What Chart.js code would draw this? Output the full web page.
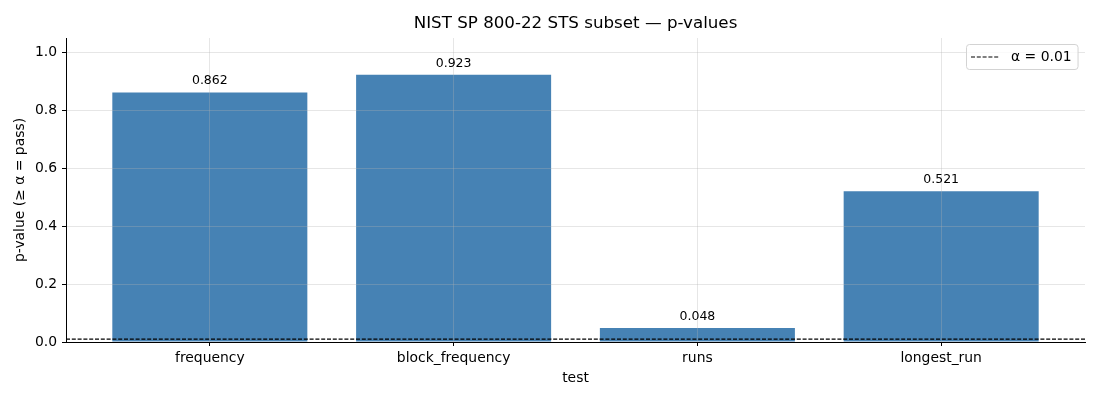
<!DOCTYPE html>
<html>
<head>
<meta charset="utf-8">
<script src="https://cdn.jsdelivr.net/npm/chart.js@4.4.0/dist/chart.umd.min.js"></script>
<style>
  html, body { margin: 0; padding: 0; background: #fff; }
</style>
</head>
<body>
<canvas id="stsChart" width="1100" height="400"></canvas>
<script>
const categories = ["frequency", "block_frequency", "runs", "longest_run"];
const pValues = [0.862, 0.923, 0.048, 0.521];
const alpha = 0.01;
const yTicks = [0.0, 0.2, 0.4, 0.6, 0.8, 1.0];
const xMin = -0.59, xMax = 3.59;
const yMax = 1.05;

const FONT = "'DejaVu Sans', sans-serif";
const gridColor = "rgba(176,176,176,0.32)";

// title centred over the plot area, like matplotlib
const titlePlugin = {
  id: "axTitle",
  afterDraw(chart) {
    const { ctx, chartArea } = chart;
    ctx.save();
    ctx.font = "16.7px " + FONT;
    ctx.fillStyle = "#000";
    ctx.textAlign = "center";
    ctx.textBaseline = "middle";
    ctx.fillText("NIST SP 800-22 STS subset — p-values", (chartArea.left + chartArea.right) / 2, 24);
    ctx.restore();
  }
};

// value labels above each bar
const valueLabels = {
  id: "valueLabels",
  afterDraw(chart) {
    const { ctx } = chart;
    const x = chart.scales.x, y = chart.scales.y;
    ctx.save();
    ctx.font = "12.5px " + FONT;
    ctx.fillStyle = "#000";
    ctx.textAlign = "center";
    ctx.textBaseline = "bottom";
    pValues.forEach((v, i) => {
      ctx.fillText(v.toFixed(3), x.getPixelForValue(i), y.getPixelForValue(v) - 5);
    });
    ctx.restore();
  }
};

// boxed legend inside the top-right corner
const boxLegend = {
  id: "boxLegend",
  afterDraw(chart) {
    const { ctx, chartArea } = chart;
    const ds = chart.data.datasets[1];
    ctx.save();
    ctx.font = "13.9px " + FONT;
    const tw = ctx.measureText(ds.label).width;
    const w = 45 + tw + 6, h = 25;
    const left = Math.round(chartArea.right - 7 - w), top = Math.round(chartArea.top + 6);
    ctx.beginPath();
    ctx.roundRect(left + 0.5, top + 0.5, w, h, 3);
    ctx.fillStyle = "rgba(255,255,255,0.8)";
    ctx.fill();
    ctx.strokeStyle = "#d3d3d3";
    ctx.lineWidth = 1;
    ctx.stroke();
    const cy = top + h / 2 + 0.5;
    ctx.beginPath();
    ctx.setLineDash(ds.borderDash);
    ctx.lineWidth = ds.borderWidth;
    ctx.strokeStyle = ds.borderColor;
    ctx.moveTo(left + 5, cy);
    ctx.lineTo(left + 33, cy);
    ctx.stroke();
    ctx.setLineDash([]);
    ctx.fillStyle = "#000";
    ctx.textBaseline = "middle";
    ctx.fillText(ds.label, left + 45, cy);
    ctx.restore();
  }
};

new Chart(document.getElementById("stsChart"), {
  type: "bar",
  data: {
    datasets: [
      {
        label: "p-value",
        data: pValues.map((v, i) => ({ x: i, y: v })),
        backgroundColor: "#4682b4",
        borderWidth: 0,
        barPercentage: 0.8,
        categoryPercentage: 1.0,
        order: 1
      },
      {
        type: "line",
        label: "α = " + alpha,
        data: [{ x: xMin, y: alpha }, { x: xMax, y: alpha }],
        borderColor: "#000",
        borderWidth: 1.2,
        borderDash: [4, 1.8],
        pointRadius: 0,
        fill: false,
        order: 0
      }
    ]
  },
  options: {
    responsive: false,
    animation: false,
    layout: { padding: { top: 38, right: 15, left: 0, bottom: 0 } },
    plugins: {
      legend: { display: false },
      title: { display: false },
      tooltip: { enabled: false }
    },
    scales: {
      x: {
        type: "linear",
        min: xMin,
        max: xMax,
        offset: false,
        afterBuildTicks: s => { s.ticks = categories.map((_, i) => ({ value: i })); },
        afterFit: s => { s.height = 58; },
        ticks: {
          callback: v => categories[v] ?? "",
          color: "#000",
          font: { family: FONT, size: 13.9 },
          padding: 4,
          maxRotation: 0,
          autoSkip: false
        },
        grid: { offset: false, color: gridColor, tickColor: "#000", tickLength: 4, z: 1 },
        border: { color: "#000", width: 1, z: 2 },
        title: {
          display: true,
          text: "test",
          color: "#000",
          font: { family: FONT, size: 13.9 },
          padding: { top: 4, bottom: 13 }
        }
      },
      y: {
        min: 0,
        max: yMax,
        afterBuildTicks: s => { s.ticks = yTicks.map(v => ({ value: v })); },
        afterFit: s => { s.width = 66; },
        ticks: {
          callback: v => v.toFixed(1),
          color: "#000",
          font: { family: FONT, size: 13.9 },
          padding: 5
        },
        grid: {
          color: c => (c.tick && c.tick.value === 0 ? "rgba(0,0,0,0)" : gridColor),
          tickColor: "#000",
          tickLength: 4,
          z: 1
        },
        border: { color: "#000", width: 1, z: 2 },
        title: {
          display: true,
          text: "p-value (≥ α = pass)",
          color: "#000",
          font: { family: FONT, size: 13.9 },
          padding: { top: 12, bottom: 4 }
        }
      }
    }
  },
  plugins: [titlePlugin, valueLabels, boxLegend]
});
</script>
</body>
</html>
